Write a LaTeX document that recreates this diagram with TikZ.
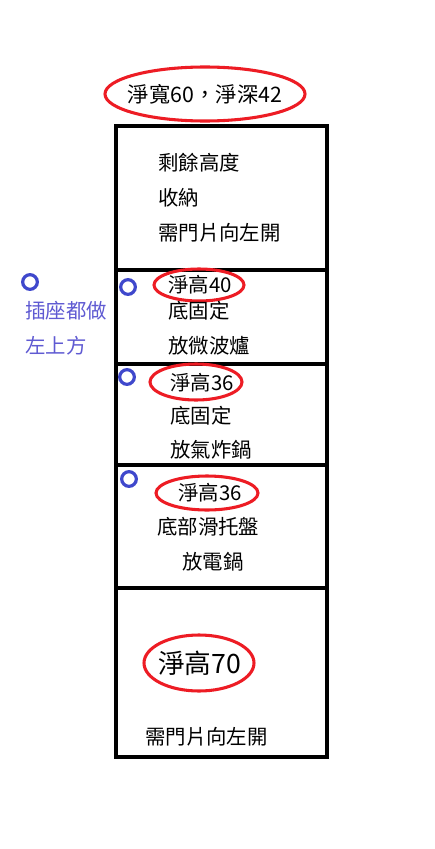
\documentclass[tikz,border=0pt]{standalone}
\usepackage{fontspec}
\newfontfamily\cjk{Noto Sans CJK TC}
\begin{document}
\begin{tikzpicture}[x=0.75pt, y=-0.75pt]

    \tikzset{textstyle/.style={font=\cjk\fontsize{15.3}{17}\selectfont, inner sep=0pt, anchor=west}}
    \tikzset{ringstyle/.style={draw={rgb,255:red,237;green,28;blue,36}, line width=2.3pt}}
    \tikzset{dotstyle/.style={draw={rgb,255:red,63;green,72;blue,204}, line width=2.4pt, circle, minimum size=11pt, inner sep=0pt}}
    \definecolor{notecolor}{RGB}{95,90,210}

    \useasboundingbox (0,0) rectangle (435,849);

    % caja
    \coordinate (a1) at (116,126);
    \coordinate (a2) at (327,757);
    \draw[line width=3pt] (a1) rectangle (a2);
    \begin{scope}[line width=3pt]
        \draw (116,270) -- (327,270);
        \draw (116,364) -- (327,364);
        \draw (116,465) -- (327,465);
        \draw (116,588) -- (327,588);
    \end{scope}

    \node[textstyle, anchor=center, font=\cjk\fontsize{16}{18}\selectfont] (t0) at (205,94) {淨寬60，淨深42};
    \draw[ringstyle] (205,94) ellipse [x radius=100, y radius=27];

    \node[textstyle] (t1) at (158,163) {剩餘高度};
    \node[textstyle] (t2) at (158,198) {收納};
    \node[textstyle] (t3) at (158,233) {需門片向左開};

    \node[textstyle] (t4) at (168,285) {淨高40};
    \draw[ringstyle] (199,285) ellipse [x radius=45, y radius=16];
    \node[textstyle] (t5) at (168,311) {底固定};
    \node[textstyle] (t6) at (168,346) {放微波爐};

    \node[textstyle] (t7) at (170,383) {淨高36};
    \draw[ringstyle] (196,382) ellipse [x radius=46, y radius=18];
    \node[textstyle] (t8) at (170,416) {底固定};
    \node[textstyle] (t9) at (170,450) {放氣炸鍋};

    \node[textstyle] (t10) at (178,493) {淨高36};
    \draw[ringstyle] (207,493) ellipse [x radius=51, y radius=17];
    \node[textstyle] (t11) at (157,527) {底部滑托盤};
    \node[textstyle] (t12) at (182,562) {放電鍋};

    \node[textstyle, font=\cjk\fontsize{20}{22}\selectfont] (t13) at (158,663) {淨高70};
    \draw[ringstyle] (199,663) ellipse [x radius=55, y radius=28];
    \node[textstyle] (t14) at (145,737) {需門片向左開};

    % enchufes
    \node[dotstyle] (d0) at (30,282) {};
    \node[dotstyle] (d1) at (128,287) {};
    \node[dotstyle] (d2) at (127,377) {};
    \node[dotstyle] (d3) at (129,479) {};

    \node[textstyle, text=notecolor] (n1) at (25,311) {插座都做};
    \node[textstyle, text=notecolor] (n2) at (25,346) {左上方};

\end{tikzpicture}
\end{document}
